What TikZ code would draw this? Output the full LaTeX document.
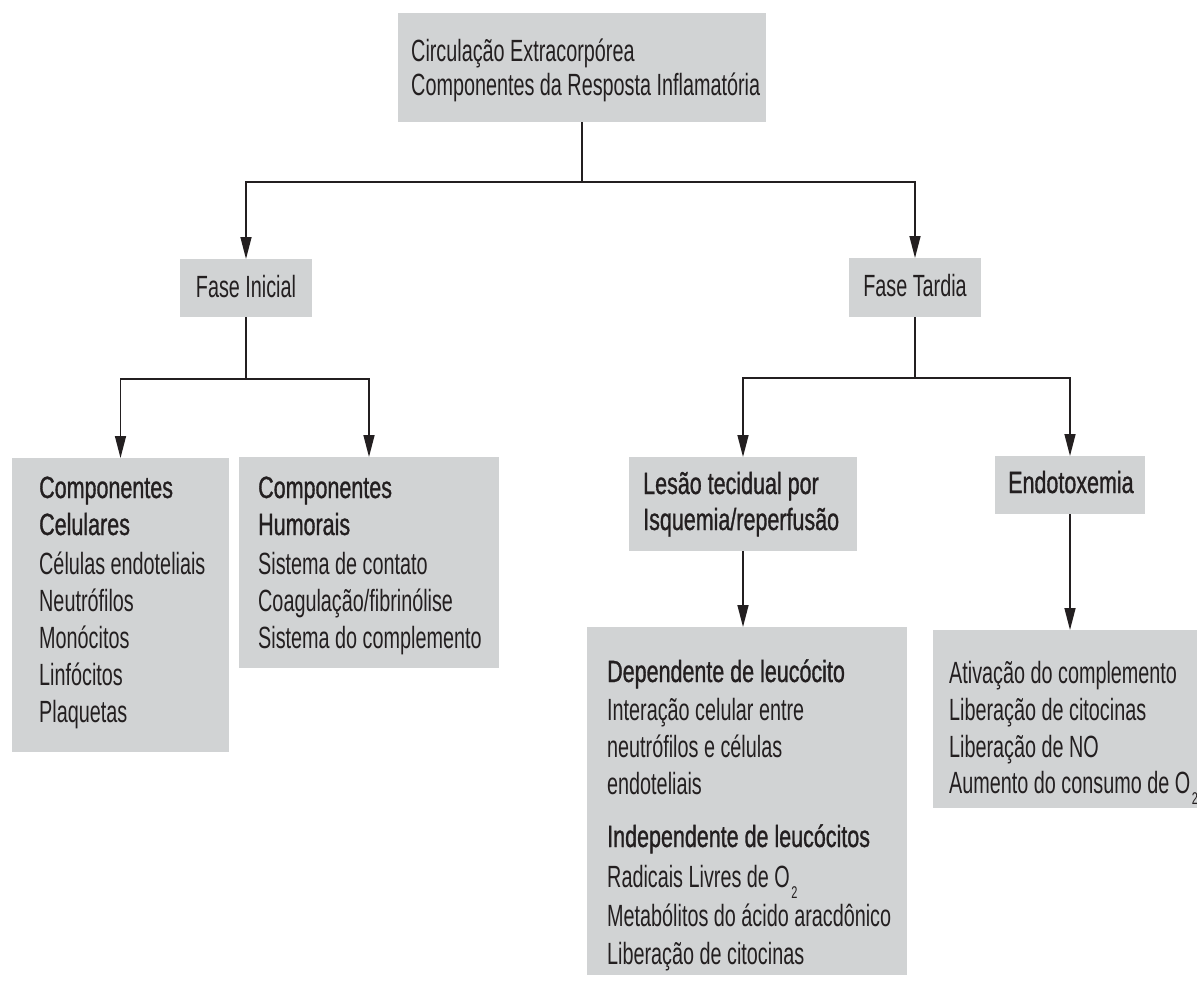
\documentclass[tikz,border=0pt]{standalone}
\usepackage{fontspec}
\setmainfont[FakeStretch=0.645]{Liberation Sans}
\newfontfamily\hdrfont[FakeStretch=0.70,FakeBold=1]{Liberation Sans}
\usetikzlibrary{arrows.meta}
\definecolor{boxgray}{RGB}{209,211,212}
\definecolor{ink}{RGB}{35,31,32}
\newcommand\lowtwo{\kern1.5pt\raisebox{-11pt}{\fontsize{17}{17}\selectfont 2}}
\tikzset{
  box/.style={fill=boxgray, draw=none, inner sep=0pt, outer sep=0pt, anchor=north west},
  txt/.style={inner sep=0pt, anchor=base west, text=ink, font=\fontsize{30.7}{37}\selectfont},
  hdr/.style={inner sep=0pt, anchor=base west, text=ink, font=\fontsize{30.7}{37}\selectfont\hdrfont},
  ln/.style={draw=ink, line width=1.5pt},
  arr/.style={ln, -{Triangle[length=22pt,width=11pt]}},
}
\begin{document}
\begin{tikzpicture}[x=1pt,y=-1pt]
\useasboundingbox (0,0) rectangle (1197,985);
% boxes
\node[box, minimum width=368pt, minimum height=109pt] (T) at (398,13) {};
\node[box, minimum width=132pt, minimum height=58pt] (FI) at (180,259) {};
\node[box, minimum width=132pt, minimum height=59pt] (FT) at (849,258) {};
\node[box, minimum width=217pt, minimum height=294pt] (C) at (12,458) {};
\node[box, minimum width=260pt, minimum height=211pt] (H) at (239,457) {};
\node[box, minimum width=228pt, minimum height=94pt] (L) at (629,457) {};
\node[box, minimum width=150pt, minimum height=58pt] (E) at (995,456) {};
\node[box, minimum width=320pt, minimum height=348pt] (D) at (587,627) {};
\node[box, minimum width=264pt, minimum height=178pt] (A) at (933,630) {};
% texts
\node[txt] (t1) at (411,61) {Circulação Extracorpórea};
\node[txt] (t2) at (411,95) {Componentes da Resposta Inflamatória};
\node[txt, anchor=base] (fi) at (246,297) {Fase Inicial};
\node[txt, anchor=base] (ft) at (915,296) {Fase Tardia};
\node[hdr] (c1) at (39,498) {Componentes};
\node[hdr] (c2) at (39,535) {Celulares};
\node[txt] (c3) at (39,574) {Células endoteliais};
\node[txt] (c4) at (39,611) {Neutrófilos};
\node[txt] (c5) at (39,648) {Monócitos};
\node[txt] (c6) at (39,685) {Linfócitos};
\node[txt] (c7) at (39,722) {Plaquetas};
\node[hdr] (h1) at (258,498) {Componentes};
\node[hdr] (h2) at (258,535) {Humorais};
\node[txt] (h3) at (258,574) {Sistema de contato};
\node[txt] (h4) at (258,611) {Coagulação/fibrinólise};
\node[txt] (h5) at (258,648) {Sistema do complemento};
\node[hdr] (l1) at (643,494) {Lesão tecidual por};
\node[hdr] (l2) at (643,530) {Isquemia/reperfusão};
\node[hdr] (e1) at (1008,493) {Endotoxemia};
\node[hdr] (d1) at (607,682) {Dependente de leucócito};
\node[txt] (d2) at (607,720) {Interação celular entre};
\node[txt] (d3) at (607,757) {neutrófilos e células};
\node[txt] (d4) at (607,794) {endoteliais};
\node[hdr] (d5) at (607,847) {Independente de leucócitos};
\node[txt] (d6) at (607,887) {Radicais Livres de O\lowtwo};
\node[txt] (d7) at (607,926) {Metabólitos do ácido aracdônico};
\node[txt] (d8) at (607,964) {Liberação de citocinas};
\node[txt] (a1) at (949,683) {Ativação do complemento};
\node[txt] (a2) at (949,720) {Liberação de citocinas};
\node[txt] (a3) at (949,757) {Liberação de NO};
\node[txt] (a4) at (949,793) {Aumento do consumo de O\lowtwo};
% connectors
\coordinate (j1) at (582,182);
\coordinate (j2) at (246,379);
\coordinate (j3) at (915,378);
\draw[ln] (T.south) -- (j1);
\draw[arr] (j1) -| (FI.north);
\draw[arr] (j1) -| (FT.north);
\draw[ln] (FI.south) -- (j2);
\draw[arr] (j2) -| (C.north);
\draw[arr] (j2) -| (H.north);
\draw[ln] (FT.south) -- (j3);
\draw[arr] (j3) -| (L.north);
\draw[arr] (j3) -| (E.north);
\draw[arr] (L.south) -- (L.south |- D.north);
\draw[arr] (E.south) -- (E.south |- A.north);
\end{tikzpicture}
\end{document}
